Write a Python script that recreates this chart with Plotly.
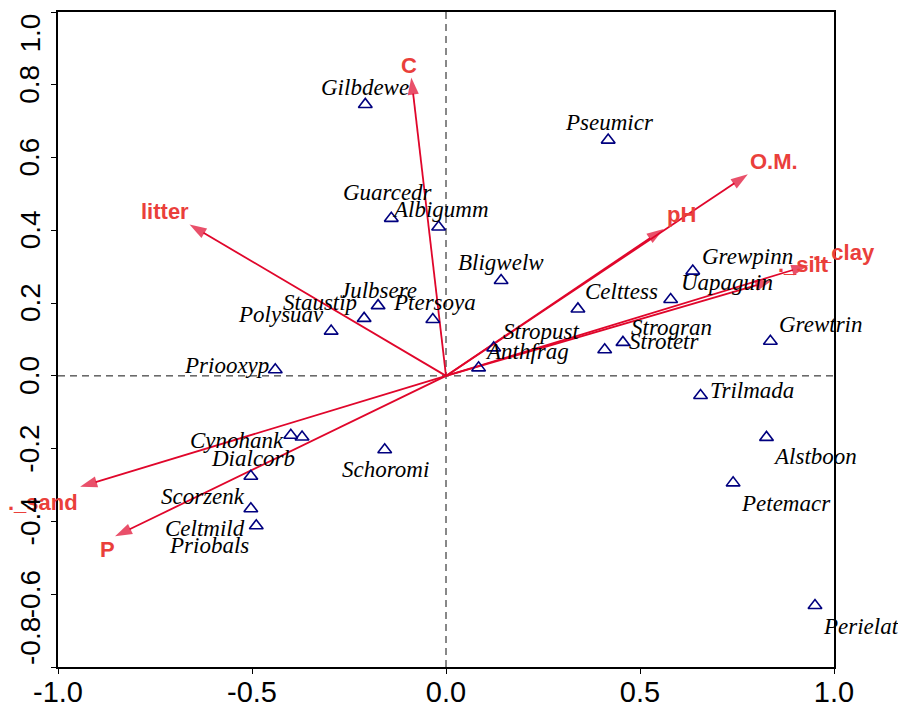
import plotly.graph_objects as go

# ---------------- data ----------------
species = ["Gilbdewe", "Guarcedr", "Albigumm", "Julbsere", "Staustip", "Ptersoya",
           "Polysuav", "Priooxyp", "Pseumicr", "Bligwelw", "Celttess", "Grewpinn",
           "Uapaguin", "Stropust", "Anthfrag", "Strogran", "Strotetr", "Grewtrin",
           "Trilmada", "Alstboon", "Petemacr", "Perielat", "Cynohank", "Dialcorb",
           "Scorzenk", "Celtmild", "Priobals", "Schoromi"]
sp_x = [-0.208, -0.141, -0.019, -0.175, -0.211, -0.034,
        -0.296, -0.440, 0.418, 0.142, 0.340, 0.636,
        0.579, 0.123, 0.084, 0.456, 0.409, 0.836,
        0.656, 0.826, 0.740, 0.951, -0.400, -0.371,
        -0.503, -0.503, -0.489, -0.158]
sp_y = [0.746, 0.433, 0.409, 0.193, 0.158, 0.155,
        0.123, 0.017, 0.648, 0.262, 0.184, 0.288,
        0.210, 0.077, 0.022, 0.092, 0.072, 0.095,
        -0.054, -0.169, -0.294, -0.631, -0.163, -0.168,
        -0.276, -0.365, -0.412, -0.203]

env_names = ["C", "litter", "O.M.", "pH", "._clay", "._silt", "._sand", "P"]
env_x = [-0.0895, -0.661, 0.778, 0.561, 0.934, 0.841, -0.943, -0.853]
env_y = [0.820, 0.416, 0.554, 0.404, 0.304, 0.262, -0.305, -0.441]

x_ticks = [-1.0, -0.5, 0.0, 0.5, 1.0]
x_ticklabels = ["-1.0", "-0.5", "0.0", "0.5", "1.0"]
y_ticks = [-0.8, -0.6, -0.4, -0.2, 0.0, 0.2, 0.4, 0.6, 0.8, 1.0]
y_ticklabels = ["-0.8", "-0.6", "-0.4", "-0.2", "0.0", "0.2", "0.4", "0.6", "0.8", "1.0"]

# ---------------- style ----------------
ARROW = "#E0062B"
ENV_LABEL = "#EA3F3B"
NAVY = "#00007F"

# label offsets in pixels (dx right, dy up)
sp_off = [(0, 17), (-3, 26), (2, 18), (0, 15), (-44, 16), (2, 17),
          (-50, 17), (-49, 4), (1, 18), (0, 18), (44, 17), (55, 15),
          (56, 17), (47, 16), (48, 16), (49, 15), (59, 8), (51, 17),
          (51, 5), (49, -19), (53, -21), (46, -21), (-54, -5), (-49, -21),
          (-48, -20), (-46, -20), (-47, -20), (1, -20)]
env_off = [(-2, 12), (-25, 13), (26, 13), (18, 14), (36, 13), (31, 16), (-37, -16), (-8, -13)]

W, H = 898, 707
ML, MR, MT, MB = 58, 64, 12, 40

fig = go.Figure()

# dashed reference lines
fig.add_shape(type="line", x0=0, x1=0, y0=-0.8, y1=1.0, xref="x", yref="y",
              line=dict(color="#111111", width=1, dash="7px,5px"), layer="below")
fig.add_shape(type="line", x0=-1, x1=1, y0=0, y1=0, xref="x", yref="y",
              line=dict(color="#111111", width=1, dash="7px,5px"), layer="below")

# environmental vectors
for name, ex, ey in zip(env_names, env_x, env_y):
    fig.add_trace(go.Scatter(
        x=[0, ex], y=[0, ey], mode="lines+markers",
        line=dict(color=ARROW, width=1.8),
        marker=dict(symbol=["circle", "arrow"], size=[0, 18], color=ARROW,
                    angleref="previous", line=dict(width=0)),
        hoverinfo="skip", showlegend=False, cliponaxis=False))

# species
fig.add_trace(go.Scatter(
    x=sp_x, y=sp_y, mode="markers",
    marker=dict(symbol="triangle-up-open", size=12, color=NAVY,
                line=dict(width=1.6, color=NAVY)),
    hovertext=species, hoverinfo="text", showlegend=False, cliponaxis=False))

annotations = []
for name, sx, sy, (dx, dy) in zip(species, sp_x, sp_y, sp_off):
    annotations.append(dict(
        x=sx, y=sy, xref="x", yref="y", text=name, showarrow=False,
        xshift=dx, yshift=dy, xanchor="center", yanchor="middle",
        font=dict(family="Liberation Serif", size=23, color="black", style="italic")))

for name, ex, ey, (dx, dy) in zip(env_names, env_x, env_y, env_off):
    annotations.append(dict(
        x=ex, y=ey, xref="x", yref="y", text=name, showarrow=False,
        xshift=dx, yshift=dy, xanchor="center", yanchor="middle",
        font=dict(family="Liberation Sans", size=22, color=ENV_LABEL, weight="bold")))

# rotated y tick labels (end labels kept inside the frame)
lab_x = (30 - ML) / (W - ML - MR)
for v, t in zip(y_ticks, y_ticklabels):
    if v == y_ticks[-1]:
        ya = "top"
    elif v == y_ticks[0]:
        ya = "bottom"
    else:
        ya = "middle"
    annotations.append(dict(
        x=lab_x, y=v, xref="paper", yref="y", text=t, showarrow=False,
        textangle=-90, xanchor="center", yanchor=ya,
        font=dict(family="Liberation Sans", size=28, color="black")))

fig.update_layout(
    width=W, height=H,
    margin=dict(l=ML, r=MR, t=MT, b=MB, autoexpand=False),
    paper_bgcolor="white", plot_bgcolor="white",
    showlegend=False,
    annotations=annotations,
    xaxis=dict(range=[-1.0, 1.0], tickvals=x_ticks, ticktext=x_ticklabels,
               automargin=False,
               showgrid=False, zeroline=False, showline=True, mirror=True,
               linecolor="black", linewidth=1.7, ticks="outside", ticklen=5,
               tickwidth=1.3, tickcolor="black", ticklabelstandoff=-7,
               tickfont=dict(family="Liberation Sans", size=29, color="black")),
    yaxis=dict(range=[-0.8, 1.0], tickvals=y_ticks, showticklabels=False,
               automargin=False,
               showgrid=False, zeroline=False, showline=True, mirror=True,
               linecolor="black", linewidth=1.7, ticks="outside", ticklen=5,
               tickwidth=1.3, tickcolor="black"),
)

fig.write_html("out.html", config={"displayModeBar": False},
               post_script="document.body.style.margin='0';document.body.style.overflow='hidden';")
